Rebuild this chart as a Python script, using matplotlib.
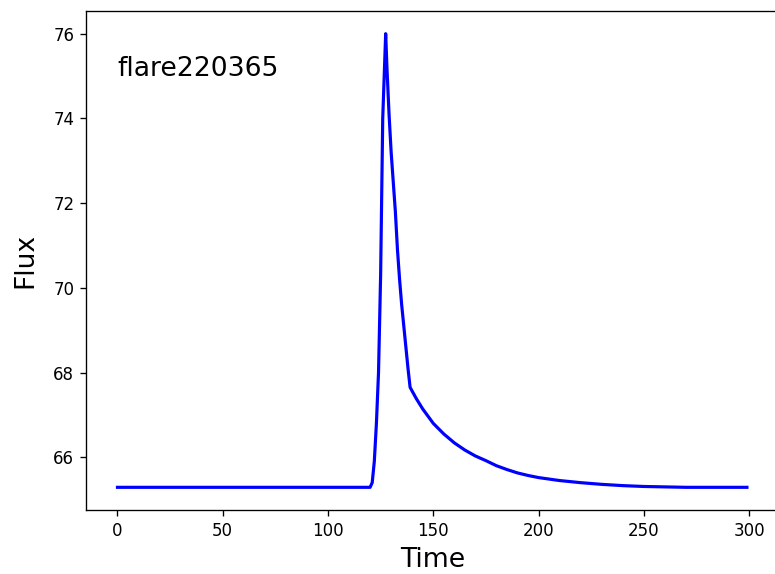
import matplotlib
matplotlib.use("Agg")
import matplotlib.pyplot as plt

# light curve
baseline_time = [0, 120]
baseline_flux = [65.29, 65.29]

rise_time = [121, 122, 123, 124, 125, 126, 127.4]
rise_flux = [65.40, 65.90, 66.80, 68.00, 70.30, 74.00, 76.00]

fast_time = [128, 129, 130, 131, 132, 133, 134, 135, 136, 137, 138]
fast_flux = [75.20, 74.10, 73.20, 72.50, 71.80, 70.90, 70.20, 69.60, 69.10, 68.60, 68.10]

slow_time = [139, 142, 145, 150, 155, 160, 165, 170, 175, 180, 185, 190,
             195, 200, 210, 220, 230, 240, 250, 260, 270, 280, 299]
slow_flux = [67.65, 67.38, 67.14, 66.80, 66.55, 66.34, 66.17, 66.03, 65.92,
             65.80, 65.71, 65.63, 65.57, 65.52, 65.45, 65.40, 65.36, 65.33,
             65.31, 65.30, 65.29, 65.29, 65.29]

flare_name = "flare220365"

time = baseline_time + rise_time + fast_time + slow_time
flux = baseline_flux + rise_flux + fast_flux + slow_flux

fig = plt.figure(figsize=(775 / 120, 574 / 120), dpi=120)
ax = fig.add_axes([86 / 775, 64 / 574, 692.4 / 775, 499 / 574])

ax.plot(time, flux, color="b", lw=1.9)
ax.text(0, 75, flare_name, fontsize=16)
ax.set_xlabel("Time", fontsize=16, labelpad=4.5)
ax.set_ylabel("Flux", fontsize=16, labelpad=9)
ax.tick_params(labelsize=10)

fig.savefig("out.png", dpi=120)
